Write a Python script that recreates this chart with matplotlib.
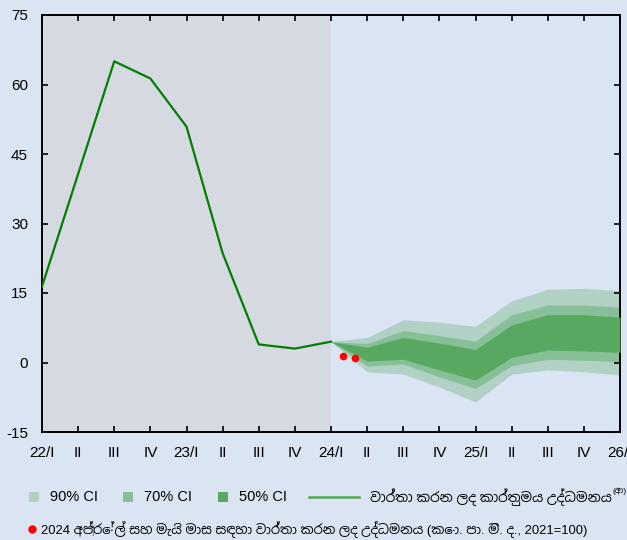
import numpy as np
import matplotlib.pyplot as plt
from matplotlib.patches import Rectangle
from matplotlib.lines import Line2D

plt.rcParams['font.family'] = ['Liberation Sans', 'Noto Sans Sinhala', 'DejaVu Sans']
plt.rcParams['axes.unicode_minus'] = False

# quarter tick labels 22/I .. 26/I
quarters = ['22/I', 'II', 'III', 'IV', '23/I', 'II', 'III', 'IV', '24/I',
            'II', 'III', 'IV', '25/I', 'II', 'III', 'IV', '26/I']

# actual inflation 22/I .. 24/I
actual = [16.4, 40.7, 65.0, 61.3, 50.9, 23.6, 3.9, 3.0, 4.5]

# projection bands 24/I .. 26/I
ci90_hi = [4.5, 5.4, 9.2, 8.7, 7.8, 13.3, 15.8, 16.0, 15.5]
ci70_hi = [4.5, 4.1, 6.9, 5.8, 4.6, 10.3, 12.4, 12.4, 11.9]
ci50_hi = [4.5, 3.3, 5.4, 4.2, 2.8, 8.1, 10.3, 10.3, 9.8]
ci50_lo = [4.5, 0.3, 0.7, -1.6, -3.8, 1.1, 2.7, 2.5, 2.2]
ci70_lo = [4.5, -0.8, -0.3, -3.1, -5.6, -0.7, 0.7, 0.5, 0.2]
ci90_lo = [4.5, -2.0, -2.5, -5.3, -8.5, -2.5, -1.6, -2.0, -2.7]

# reported April and May 2024
dot_x = [8.33, 8.67]
dot_y = [1.5, 0.9]

band_labels = ['90% CI', '70% CI', '50% CI']
band_colors = ['#b0d1c4', '#86bf98', '#58a862']
line_label = 'වාර්තා කරන ලද කාර්තුමය උද්ධමනය'
line_note = '(ආ)'
dot_label = '2024 අප්‍රේල් සහ මැයි මාස සඳහා වාර්තා කරන ලද උද්ධමනය (කො. පා. මි. ද., 2021=100)'

bg = '#dbe4f3'
W, H = 627, 540
fig = plt.figure(figsize=(W / 100, H / 100), dpi=100, facecolor=bg)
ax = fig.add_axes([42 / W, 1 - 432 / H, 578 / W, 417 / H])
ax.set_facecolor(bg)

x_act = np.arange(len(actual))
x_fc = np.arange(8, 8 + len(ci90_hi))

ax.axvspan(0, 8, color='#d6d9e2', lw=0, zorder=0)

ax.fill_between(x_fc, ci90_lo, ci90_hi, color=band_colors[0], lw=0, zorder=1)
ax.fill_between(x_fc, ci70_lo, ci70_hi, color=band_colors[1], lw=0, zorder=2)
ax.fill_between(x_fc, ci50_lo, ci50_hi, color=band_colors[2], lw=0, zorder=3)

ax.plot(x_act, actual, color='#008000', lw=1.6, zorder=4)
ax.scatter(dot_x, dot_y, color='#ff0000', s=30, zorder=5, lw=0)

ax.set_xlim(0, 16)
ax.set_ylim(-15, 75)
ax.set_yticks(np.arange(-15, 76, 15))
ax.set_xticks(np.arange(len(quarters)))
ax.set_xticklabels(quarters)
ax.tick_params(axis='both', direction='in', length=4, width=1.2, labelsize=11,
               colors='black', top=True, right=True)
ax.tick_params(axis='x', pad=10)
ax.tick_params(axis='y', pad=10)
for s in ax.spines.values():
    s.set_linewidth(1.4)

# legend drawn by hand (pixel positions)
def fx(px):
    return px / W

def fy(py):
    return 1 - py / H

row1 = 497
for px, lab, col in zip([29, 123, 218], band_labels, band_colors):
    fig.add_artist(Rectangle((fx(px), fy(row1 + 5)), 10 / W, 10 / H,
                             transform=fig.transFigure, color=col, lw=0))
    fig.text(fx(px + 21), fy(row1), lab, fontsize=10.5, va='center', ha='left')

fig.add_artist(Line2D([fx(309), fx(359)], [fy(row1), fy(row1)],
                      transform=fig.transFigure, color='#4fa64f', lw=1.8))
t = fig.text(fx(370), fy(row1), line_label, fontsize=9.8, va='center', ha='left')
fig.canvas.draw()
bb = t.get_window_extent()
fig.text(bb.x1 / W + 0.001, fy(row1 - 6), line_note, fontsize=6, va='center', ha='left')

row2 = 530
fig.add_artist(Line2D([fx(32)], [fy(row2 - 1)], transform=fig.transFigure,
                      color='#ff0000', marker='o', ms=5, ls='none'))
fig.text(fx(41), fy(row2), dot_label, fontsize=9.4, va='center', ha='left')

fig.savefig('out.png', dpi=100, facecolor=bg)
